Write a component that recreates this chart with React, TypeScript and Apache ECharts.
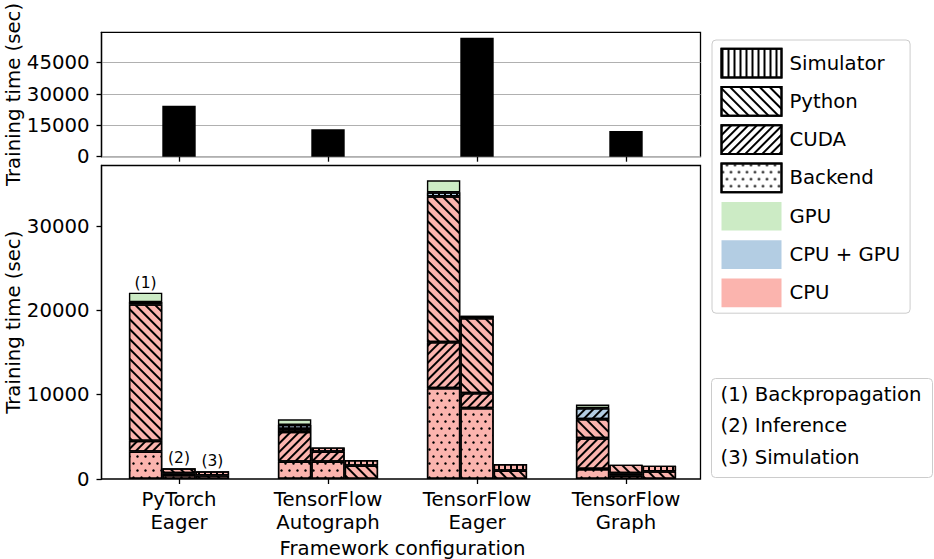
import React, { useEffect, useRef } from 'react';
import * as echarts from 'echarts';

// ---------- data ----------
const categories = ['PyTorch\nEager', 'TensorFlow\nAutograph', 'TensorFlow\nEager', 'TensorFlow\nGraph'];
const totalTime = [24400, 13200, 56900, 12250];
const topTicks = [0, 15000, 30000, 45000];
const bottomTicks = [0, 10000, 20000, 30000];

// (1) Backpropagation
const bpCpuBackend = [3250, 2055, 10775, 1188];
const bpCpuCuda = [1274, 3529, 5465, 3647];
const bpCpuPython = [16190, 0, 17297, 2269];
const bpCpuSim = [0, 356, 0, 0];
const bpMixCuda = [0, 0, 0, 1296];
const bpMixSim = [276, 475, 476, 0];
const bpGpu = [1117, 677, 1427, 430];

// (2) Inference
const infCpuBackend = [470, 2055, 8400, 400];
const infCpuCuda = [210, 1188, 1781, 280];
const infCpuPython = [590, 0, 8907, 1020];
const infCpuSim = [0, 500, 277, 0];

// (3) Simulation
const simCpuPython = [430, 1580, 986, 915];
const simCpuSim = [490, 677, 796, 665];

const phaseNotes = ['(1)', '(2)', '(3)'];
const noteLines = ['(1) Backpropagation', '(2) Inference', '(3) Simulation'];
const hatchNames = ['Simulator', 'Python', 'CUDA', 'Backend'];
const deviceNames = ['GPU', 'CPU + GPU', 'CPU'];

// ---------- styles ----------
const FONT = 'DejaVu Sans';
const FS = 19.7;
const deviceColor: Record<string, string> = {
  CPU: '#fbb4ae',
  'CPU + GPU': '#b3cde3',
  GPU: '#ccebc5',
};
const decals: Record<string, any> = {
  Simulator: { symbol: 'rect', symbolSize: 1, dashArrayX: [2, 4], dashArrayY: [1, 0], color: '#000' },
  Python: { symbol: 'rect', symbolSize: 1, dashArrayX: [1, 0], dashArrayY: [2, 5], rotation: Math.PI / 4, color: '#000' },
  CUDA: { symbol: 'rect', symbolSize: 1, dashArrayX: [1, 0], dashArrayY: [2, 4], rotation: -Math.PI / 4, color: '#000' },
  Backend: { symbol: 'circle', symbolSize: 0.85, dashArrayX: [[3, 5], [0, 4, 3, 1]], dashArrayY: [3, 4], color: '#000' },
};

const BAR_W = 33.4;
const EDGE = 1.4;
const LEFT_FRAME = 101.5;
const FRAME_W = 599;
const LEFT_DATA = 104.5;
const DATA_W = 596;
const TOP_Y = 32.3;
const TOP_H = 124.4;
const BOT_Y = 165.5;
const BOT_H = 313.5;
const TOP_MAX = 59550;
const BOT_MAX = 37200;

function segment(stack: string, device: string, hatch: string | null, values: number[]) {
  const itemStyle: any = { color: deviceColor[device], borderColor: '#000', borderWidth: EDGE };
  if (hatch) itemStyle.decal = decals[hatch];
  return {
    type: 'bar',
    name: `${stack}-${device}-${hatch || 'plain'}`,
    xAxisIndex: 1,
    yAxisIndex: 1,
    stack,
    barWidth: BAR_W,
    barGap: '0%',
    data: values.map((v) => (v === 0 ? '-' : v)),
    itemStyle,
    emphasis: { disabled: true },
  };
}

function noteSeries(stack: string, text: string) {
  return {
    type: 'bar',
    name: `${stack}-note`,
    xAxisIndex: 1,
    yAxisIndex: 1,
    stack,
    barWidth: BAR_W,
    barGap: '0%',
    data: categories.map((_, i) => (i === 0 ? { value: 0, label: { show: true, formatter: text } } : '-')),
    itemStyle: { color: 'rgba(0,0,0,0)', borderWidth: 0 },
    label: { show: false, position: 'top', distance: 2, fontSize: 15.5, fontFamily: FONT, color: '#000' },
    silent: true,
  };
}

function legendSeries(name: string) {
  const isHatch = hatchNames.includes(name);
  const itemStyle: any = isHatch
    ? { color: '#fff', borderColor: '#000', borderWidth: 1.8, decal: decals[name] }
    : { color: deviceColor[name], borderColor: 'rgba(0,0,0,0)', borderWidth: 1.8 };
  return {
    type: 'bar',
    name,
    xAxisIndex: 1,
    yAxisIndex: 1,
    stack: 'bp',
    barWidth: BAR_W,
    data: [],
    itemStyle,
  };
}

const axisLineStyle = { color: '#000', width: 1.3 };
const plainFormatter = (v: number) => String(Math.round(v));

export default function App() {
  const ref = useRef<HTMLDivElement>(null);
  useEffect(() => {
    if (!ref.current) return;
    const chart = echarts.init(ref.current, null, { renderer: 'svg' });
    const option: any = {
      animation: false,
      textStyle: { fontFamily: FONT },
      grid: [
        { left: LEFT_DATA, top: TOP_Y, width: DATA_W, height: TOP_H, show: false, outerBoundsMode: 'none' },
        { left: LEFT_DATA, top: BOT_Y, width: DATA_W, height: BOT_H, show: false, outerBoundsMode: 'none' },
        { left: LEFT_FRAME, top: TOP_Y, width: FRAME_W, height: TOP_H, show: true, borderColor: '#000', borderWidth: 1.3, outerBoundsMode: 'none' },
        { left: LEFT_FRAME, top: BOT_Y, width: FRAME_W, height: BOT_H, show: true, borderColor: '#000', borderWidth: 1.3, outerBoundsMode: 'none' },
      ],
      xAxis: [
        {
          type: 'category',
          gridIndex: 0,
          data: categories,
          axisLine: { show: false },
          axisTick: { show: true, alignWithLabel: true, length: 5, lineStyle: axisLineStyle },
          axisLabel: { show: false },
          splitLine: { show: false },
        },
        {
          type: 'category',
          gridIndex: 1,
          data: categories,
          axisLine: { show: false },
          axisTick: { show: true, alignWithLabel: true, length: 5, lineStyle: axisLineStyle },
          axisLabel: { fontSize: FS, fontFamily: FONT, color: '#000', lineHeight: 23, margin: 9, interval: 0 },
          splitLine: { show: false },
          name: 'Framework configuration',
          nameLocation: 'middle',
          nameGap: 57,
          nameTextStyle: { fontSize: FS, fontFamily: FONT, color: '#000', lineHeight: 20 },
        },
        { type: 'value', gridIndex: 2, min: 0, max: 1, show: false },
        { type: 'value', gridIndex: 3, min: 0, max: 1, show: false },
      ],
      yAxis: [
        { type: 'value', gridIndex: 0, min: 0, max: TOP_MAX, show: false, splitLine: { show: false } },
        { type: 'value', gridIndex: 1, min: 0, max: BOT_MAX, show: false, splitLine: { show: false } },
        {
          type: 'value',
          gridIndex: 2,
          min: 0,
          max: TOP_MAX,
          interval: 15000,
          name: 'Training time (sec)',
          nameLocation: 'middle',
          nameGap: 78,
          nameMoveOverlap: false,
          nameRotate: 90,
          nameTextStyle: { fontSize: FS, fontFamily: FONT, color: '#000' },
          axisLine: { show: true, onZero: false, lineStyle: axisLineStyle },
          axisTick: { show: true, customValues: topTicks, length: 5, lineStyle: axisLineStyle },
          axisLabel: { customValues: topTicks, formatter: plainFormatter, fontSize: FS, fontFamily: FONT, color: '#000', margin: 12 },
          splitLine: { show: true, lineStyle: { color: '#b0b0b0', width: 1.1 } },
        },
        {
          type: 'value',
          gridIndex: 3,
          min: 0,
          max: BOT_MAX,
          name: 'Training time (sec)',
          nameLocation: 'middle',
          nameGap: 78,
          nameMoveOverlap: false,
          nameRotate: 90,
          nameTextStyle: { fontSize: FS, fontFamily: FONT, color: '#000' },
          axisLine: { show: true, onZero: false, lineStyle: axisLineStyle },
          axisTick: { show: true, customValues: bottomTicks, length: 5, lineStyle: axisLineStyle },
          axisLabel: { customValues: bottomTicks, formatter: plainFormatter, fontSize: FS, fontFamily: FONT, color: '#000', margin: 12 },
          splitLine: { show: false },
        },
      ],
      legend: {
        orient: 'vertical',
        left: 712,
        top: 40,
        itemWidth: 60,
        itemHeight: 28.7,
        itemGap: 7.6,
        padding: [7.7, 10, 5, 8.5],
        backgroundColor: '#fff',
        borderColor: '#cccccc',
        borderWidth: 1,
        borderRadius: 4,
        selectedMode: false,
        icon: 'rect',
        textStyle: { fontSize: FS, fontFamily: FONT, color: '#000', padding: [0, 0, 0, 3] },
        data: [...hatchNames, ...deviceNames],
      },
      graphic: [
        {
          type: 'group',
          left: 711,
          top: 378,
          children: [
            {
              type: 'rect',
              shape: { x: 0, y: 0, width: 221, height: 99, r: 4 },
              style: { fill: '#fff', stroke: '#cccccc', lineWidth: 1 },
            },
            ...noteLines.map((t, i) => ({
              type: 'text',
              x: 9,
              y: 15.5 + i * 31.5,
              style: { text: t, fontSize: FS, fontFamily: FONT, fill: '#000', align: 'left', verticalAlign: 'middle' },
            })),
          ],
        },
      ],
      series: [
        {
          type: 'bar',
          name: 'Total',
          xAxisIndex: 0,
          yAxisIndex: 0,
          barWidth: BAR_W,
          data: totalTime,
          itemStyle: { color: '#000' },
          emphasis: { disabled: true },
        },
        segment('bp', 'CPU', 'Backend', bpCpuBackend),
        segment('inf', 'CPU', 'Backend', infCpuBackend),
        segment('sim', 'CPU', 'Python', simCpuPython),
        segment('bp', 'CPU', 'CUDA', bpCpuCuda),
        segment('bp', 'CPU', 'Python', bpCpuPython),
        segment('bp', 'CPU', 'Simulator', bpCpuSim),
        segment('bp', 'CPU + GPU', 'CUDA', bpMixCuda),
        segment('bp', 'CPU + GPU', 'Simulator', bpMixSim),
        segment('bp', 'GPU', null, bpGpu),
        segment('inf', 'CPU', 'CUDA', infCpuCuda),
        segment('inf', 'CPU', 'Python', infCpuPython),
        segment('inf', 'CPU', 'Simulator', infCpuSim),
        segment('sim', 'CPU', 'Simulator', simCpuSim),
        noteSeries('bp', phaseNotes[0]),
        noteSeries('inf', phaseNotes[1]),
        noteSeries('sim', phaseNotes[2]),
        ...[...hatchNames, ...deviceNames].map(legendSeries),
      ],
    };
    chart.setOption(option);
    return () => chart.dispose();
  }, []);
  return <div ref={ref} style={{ width: 934, height: 559, position: 'absolute', left: 0, top: 0 }} />;
}
